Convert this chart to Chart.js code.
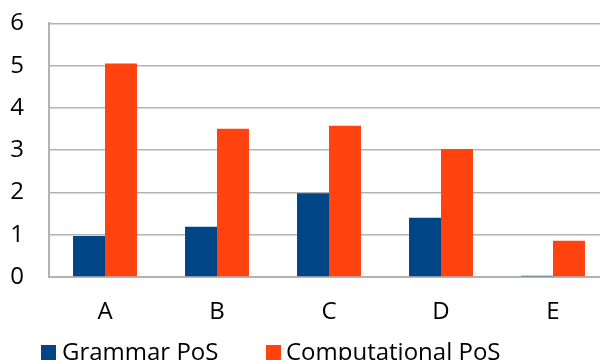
<!DOCTYPE html>
<html lang="en">
<head>
    <meta charset="UTF-8">
    <title>PoS chart</title>
    <script src="https://cdn.jsdelivr.net/npm/chart.js"></script>
    <style>
        html, body { margin: 0; padding: 0; background: #fff; overflow: hidden; }
        #wrap { position: relative; width: 600px; height: 360px; overflow: hidden; }
        #chart { position: absolute; left: 0; top: -16px; }
        .legend-item {
            position: absolute;
            font-family: 'Open Sans', 'Noto Sans', sans-serif;
            font-size: 24px;
            line-height: 24px;
            color: #000;
            white-space: nowrap;
        }
        .legend-box { position: absolute; width: 15px; height: 16px; }
    </style>
</head>
<body>
    <div id="wrap">
        <canvas id="chart" width="612" height="376"></canvas>
        <!-- legend is cut off by the bottom edge, like in the picture -->
        <div class="legend-box" style="left:41px; top:345px; background:#004586;"></div>
        <div class="legend-item" style="left:62px; top:339px;">Grammar PoS</div>
        <div class="legend-box" style="left:266px; top:345px; background:#ff420e;"></div>
        <div class="legend-item" style="left:286px; top:339px;">Computational PoS</div>
    </div>

    <script>
        // data
        const categories = ['A', 'B', 'C', 'D', 'E'];
        const grammarPoS = [0.97, 1.19, 1.98, 1.40, 0.03];
        const computationalPoS = [5.05, 3.51, 3.58, 3.03, 0.86];

        const font = "'Open Sans', 'Noto Sans', sans-serif";
        const gridColor = '#b3b3b3';

        const ctx = document.getElementById('chart').getContext('2d');
        new Chart(ctx, {
            type: 'bar',
            data: {
                labels: categories,
                datasets: [
                    {
                        label: 'Grammar PoS',
                        data: grammarPoS,
                        backgroundColor: '#004586'
                    },
                    {
                        label: 'Computational PoS',
                        data: computationalPoS,
                        backgroundColor: '#ff420e'
                    }
                ]
            },
            options: {
                responsive: false,
                animation: false,
                layout: { padding: { top: 0, right: 3, left: 0, bottom: 0 } },
                datasets: {
                    bar: { categoryPercentage: 0.571, barPercentage: 1.0 }
                },
                scales: {
                    x: {
                        grid: { display: false, drawTicks: false },
                        border: { display: true, color: gridColor, width: 2 },
                        ticks: {
                            color: '#000',
                            font: { family: font, size: 24 },
                            padding: 21
                        },
                        afterFit: (scale) => { scale.height = 83; }
                    },
                    y: {
                        min: 0,
                        max: 6,
                        ticks: {
                            stepSize: 1,
                            color: '#000',
                            font: { family: font, size: 24 },
                            padding: 25
                        },
                        grid: { color: gridColor, lineWidth: 1.5, drawTicks: false },
                        border: { display: true, color: gridColor, width: 2 },
                        afterFit: (scale) => { scale.width = 49; }
                    }
                },
                plugins: {
                    tooltip: { enabled: false },
                    legend: { display: false }
                }
            }
        });
    </script>
</body>
</html>
